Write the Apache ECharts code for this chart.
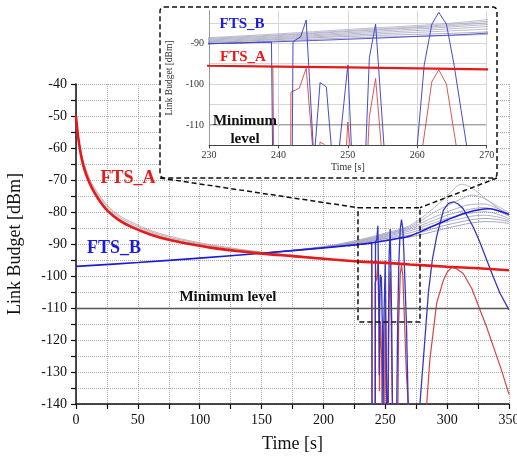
<!DOCTYPE html>
<html><head><meta charset="utf-8">
<script src="https://cdn.jsdelivr.net/npm/echarts@6/dist/echarts.min.js"></script>
<style>html,body{margin:0;padding:0;background:#fff}#c{width:517px;height:456px}</style>
</head><body><div id="c"></div>
<script>
// ---------- data ----------
const redT = [0,1,2,4,6,8,11,15,20,26,35,46,60,75,92,110,130,150,175,200,230,250,270,300,325,350];
const redV = [-50,-54,-57.3,-62.2,-65.6,-68.1,-71,-74,-77,-79.8,-82.6,-84.9,-87,-88.7,-90,-91.2,-92.2,-93,-93.8,-94.6,-95.5,-95.9,-96.4,-97.1,-97.6,-98.2];

const grayAT = [0,2,5,11,15,20,26,35,46,60,75,92,110,130,150,175,200];
const grayA1 = [-50,-57.1,-63.5,-70.6,-73.6,-76.5,-79.3,-82.1,-84.4,-86.5,-88.3,-89.6,-90.9,-92,-92.8,-93.7,-94.5];
const grayA2 = [-50,-56.9,-63.1,-70.1,-73,-75.9,-78.7,-81.6,-83.9,-86.1,-87.9,-89.3,-90.6,-91.7,-92.6,-93.6,-94.4];
const grayA3 = [-50,-56.7,-62.7,-69.6,-72.5,-75.3,-78.2,-81.1,-83.4,-85.7,-87.5,-89,-90.3,-91.5,-92.5,-93.5,-94.4];

const blueT = [0,50,100,150,200,230,240,250,260,270,285,300,315,333,350];
const blueV = [-97,-95.8,-94.4,-92.9,-91.2,-90.1,-89.6,-89,-88.3,-87.5,-85,-82.5,-80.3,-79,-80.8];

const fanT = [150,200,230,250,270,290,300,312,320,330,340,350];
const fan1 = [-92.9,-90.8,-88.6,-86.6,-84.2,-78.5,-75,-71.3,-72.5,-75.5,-78.5,-81];
const fan2 = [-92.9,-90.9,-88.8,-86.9,-84.6,-80,-78,-75.8,-74.7,-75.8,-78,-80.2];
const fan3 = [-92.9,-91,-89,-87.1,-85,-81.5,-80,-78.3,-77.6,-77.5,-78.8,-80.6];
const fan4 = [-92.9,-91,-89.2,-87.4,-85.4,-82.5,-81,-79.7,-79,-78.6,-79.6,-81.3];
const fan5 = [-92.9,-91.1,-89.4,-87.7,-85.9,-83.3,-82,-80.9,-80.3,-79.9,-80.6,-82];
const fan6 = [-92.9,-91.1,-89.6,-88,-86.5,-84.2,-83,-82,-81.3,-81,-81.5,-82.5];
const fan7 = [-92.9,-91.2,-89.8,-88.3,-87.2,-85.1,-84,-83,-82.4,-82,-82.3,-83];
const fan8 = [-92.9,-91.2,-90,-88.7,-87.8,-86,-85,-84,-83.4,-83,-83.1,-83.6];

const blueSpikeT = [220,230,239,239.15,239.3,241.9,242,242.1,243.2,244,245,245.15,245.3,246,246.9,247.6,248.2,248.8,250,250.5,251.2,252,252.6,253.1,254,255.2,256,259,260,261,262.1,263.1,264.2,265.3,267.1,268.5,270,277,278,281,284.8,288,291.5,297,301,305,309,313,321,326,332,337,342.7,350];
const blueSpikeV = [-90.6,-90.1,-89.7,-115,-150,-150,-115,-89.6,-88.4,-84.3,-115,-131,-115,-99.6,-100.7,-115,-145,-115,-95.3,-115,-140,-150,-115,-93.5,-85.3,-115,-150,-150,-115,-95.3,-85.3,-82.4,-85.3,-95.3,-115,-140,-150,-150,-140,-125,-105.4,-95,-87.7,-79.4,-77.3,-76.8,-77.5,-79,-84.6,-89,-95,-100,-105.4,-110.6];

const redSpikeT = [220,230,239.2,239.3,239.4,241.7,241.8,243,244,244.9,245.3,245.8,246,246.6,247,247.5,249.5,249.8,250,250.3,250.8,252.3,252.9,253.1,254,254.8,255.5,256.5,260,260.8,262.1,263.1,264.2,265.6,267,268.5,270,282,283.5,286,291.5,297,300,303.7,307,313,320,326.6,332,337.3,344,350];
const redSpikeV = [-95.2,-95.5,-95.7,-115,-150,-150,-102,-101,-96.1,-115,-136,-118,-114.2,-114.8,-125,-150,-150,-115,-109.3,-115,-136,-150,-115,-108,-98.6,-115,-135,-150,-150,-115,-99.4,-96.5,-100,-115,-130,-140,-150,-150,-140,-126.3,-108.5,-101.3,-98.8,-97.3,-97.6,-99.2,-104,-110.6,-116,-122,-129.5,-137];

const minLevel = -110;
const mainXTicks = {min: 0, max: 350, interval: 50};
const mainYTicks = {min: -140, max: -40, interval: 10};
const insetXTicks = {min: 230, max: 270, interval: 10};
const insetYTicks = {min: -115, max: -82, interval: 5};

// ---------- build ----------
const zip = (t, v) => t.map((x, i) => [x, v[i]]);
const SERIF = '"Liberation Serif","Times New Roman",serif';

const lineDefs = [
  {t: grayAT, v: grayA3, color: '#b39a9a', w: 0.8, wi: 0.8, smooth: true},
  {t: grayAT, v: grayA2, color: '#b39a9a', w: 0.8, wi: 0.8, smooth: true},
  {t: grayAT, v: grayA1, color: '#b39a9a', w: 0.8, wi: 0.8, smooth: true},
  {t: fanT, v: fan1, color: '#a3a3bd', w: 0.8, wi: 0.7, smooth: true},
  {t: fanT, v: fan2, color: '#a3a3bd', w: 0.8, wi: 0.7, smooth: true},
  {t: fanT, v: fan3, color: '#9c9cb8', w: 0.8, wi: 0.7, smooth: true},
  {t: fanT, v: fan4, color: '#9c9cb8', w: 0.8, wi: 0.7, smooth: true},
  {t: fanT, v: fan5, color: '#9c9cb8', w: 0.8, wi: 0.7, smooth: true},
  {t: fanT, v: fan6, color: '#9c9cb8', w: 0.8, wi: 0.7, smooth: true},
  {t: fanT, v: fan7, color: '#8e8eb4', w: 0.8, wi: 0.7, smooth: true},
  {t: fanT, v: fan8, color: '#8e8eb4', w: 0.8, wi: 0.7, smooth: true},
  {t: redSpikeT, v: redSpikeV, color: '#d24545', w: 1.2, wi: 0.9, smooth: false},
  {t: blueSpikeT, v: blueSpikeV, color: '#3636c4', w: 1.3, wi: 0.9, smooth: false},
  {t: blueT, v: blueV, color: '#1c1cd8', w: 1.6, wi: 0.9, ci: '#4444c0', smooth: true},
  {t: redT, v: redV, color: '#e8191b', w: 2.6, wi: 2.2, smooth: true}
];

const series = [];
lineDefs.forEach((d, i) => {
  const data = zip(d.t, d.v);
  series.push({type: 'line', xAxisIndex: 0, yAxisIndex: 0, data, showSymbol: false, symbol: 'none',
    smooth: d.smooth ? 0.35 : false, clip: true, silent: true, z: 2,
    lineStyle: {color: d.color, width: d.w}});
  series.push({type: 'line', xAxisIndex: 1, yAxisIndex: 1, data, showSymbol: false, symbol: 'none',
    smooth: d.smooth ? 0.35 : false, clip: true, silent: true, z: 10,
    lineStyle: {color: d.ci || d.color, width: d.wi}});
});
// minimum level lines
series.push({type: 'line', xAxisIndex: 0, yAxisIndex: 0, data: [], silent: true, z: 1,
  markLine: {symbol: 'none', silent: true, label: {show: false},
    lineStyle: {color: '#555', width: 1.3, type: 'solid'}, data: [{yAxis: minLevel}]}});
series.push({type: 'line', xAxisIndex: 1, yAxisIndex: 1, data: [], silent: true, z: 9,
  markLine: {symbol: 'none', silent: true, label: {show: false},
    lineStyle: {color: '#888', width: 1.5, type: 'solid'}, data: [{yAxis: minLevel}]}});

const dash = [5, 3];
const txt = (x, y, s, color, size, weight) => ({type: 'text', x, y, z: 20,
  style: {text: s, fill: color, font: `${weight} ${size}px ${SERIF}`,
    textAlign: 'center', textVerticalAlign: 'middle', align: 'center', verticalAlign: 'middle'}});

const option = {
  animation: false,
  backgroundColor: '#fff',
  grid: [
    {left: 76, top: 84, right: 8, bottom: 52, containLabel: false, outerBoundsMode: 'none'},
    {left: 209, top: 10.7, right: 30.3, bottom: 310.7, containLabel: false, outerBoundsMode: 'none'}
  ],
  xAxis: [
    {type: 'value', gridIndex: 0, ...mainXTicks, name: 'Time [s]', nameLocation: 'middle', nameGap: 31,
      nameTextStyle: {fontFamily: SERIF, fontSize: 18, color: '#111'},
      axisLine: {show: true, onZero: false, lineStyle: {color: '#111', width: 1.5}},
      axisTick: {show: true, inside: false, length: 5, lineStyle: {color: '#111', width: 1.2}},
      minorTick: {show: true, splitNumber: 2, length: 5, lineStyle: {color: '#111', width: 1.2}},
      axisLabel: {fontFamily: SERIF, fontSize: 14, color: '#111', margin: 9},
      splitLine: {show: true, lineStyle: {color: '#aaa', type: 'dotted', width: 1}},
      minorSplitLine: {show: true, lineStyle: {color: '#aaa', type: 'dotted', width: 1}}},
    {type: 'value', gridIndex: 1, ...insetXTicks, name: 'Time [s]', nameLocation: 'middle', nameGap: 17, z: 8,
      nameTextStyle: {fontFamily: SERIF, fontSize: 10, color: '#333'},
      axisLine: {show: true, onZero: false, lineStyle: {color: '#444', width: 1}},
      axisTick: {show: true, length: 3, lineStyle: {color: '#444'}},
      axisLabel: {fontFamily: SERIF, fontSize: 10, color: '#333', margin: 5},
      splitLine: {show: true, lineStyle: {color: '#d6d6d6', width: 1}}}
  ],
  yAxis: [
    {type: 'value', gridIndex: 0, ...mainYTicks, name: 'Link Budget [dBm]', nameLocation: 'middle', nameGap: 52,
      nameTextStyle: {fontFamily: SERIF, fontSize: 18, color: '#111'},
      axisLine: {show: true, onZero: false, lineStyle: {color: '#111', width: 1.5}},
      axisTick: {show: true, inside: false, length: 5, lineStyle: {color: '#111', width: 1.2}},
      minorTick: {show: true, splitNumber: 2, length: 5, lineStyle: {color: '#111', width: 1.2}},
      axisLabel: {fontFamily: SERIF, fontSize: 14, color: '#111', margin: 9},
      splitLine: {show: true, lineStyle: {color: '#aaa', type: 'dotted', width: 1}},
      minorSplitLine: {show: true, lineStyle: {color: '#aaa', type: 'dotted', width: 1}}},
    {type: 'value', gridIndex: 1, ...insetYTicks, name: 'Link Budget [dBm]', nameLocation: 'middle', nameGap: 30, z: 8,
      nameTextStyle: {fontFamily: SERIF, fontSize: 9.5, color: '#333'},
      axisLine: {show: true, onZero: false, lineStyle: {color: '#999', width: 1}},
      axisTick: {show: false},
      axisLabel: {fontFamily: SERIF, fontSize: 10, color: '#333', margin: 5,
        formatter: v => (v % 10 === 0 ? String(v) : '')},
      splitLine: {show: true, lineStyle: {color: ['#d6d6d6','#d6d6d6','#d6d6d6','#d6d6d6','#d6d6d6','#d6d6d6','#d6d6d6','rgba(0,0,0,0)'], width: 1}}}
  ],
  series,
  graphic: {elements: [
    {type: 'rect', z: 5, shape: {x: 160, y: 7, width: 337, height: 171, r: 4},
      style: {fill: '#fff', stroke: '#111', lineWidth: 1.5, lineDash: dash}},
    {type: 'polyline', z: 5, shape: {points: [[160, 178], [358, 207.7]]},
      style: {fill: null, stroke: '#111', lineWidth: 1.5, lineDash: dash}},
    {type: 'polyline', z: 5, shape: {points: [[497, 178], [420, 207.7]]},
      style: {fill: null, stroke: '#111', lineWidth: 1.5, lineDash: dash}},
    {type: 'rect', z: 5, shape: {x: 358, y: 207.7, width: 62, height: 114.3},
      style: {fill: null, stroke: '#111', lineWidth: 1.5, lineDash: dash}},
    txt(128, 178, 'FTS_A', '#e8191b', 18, 'bold'),
    txt(114, 248, 'FTS_B', '#1c1cd8', 18, 'bold'),
    txt(228, 297, 'Minimum level', '#111', 15, 'bold'),
    txt(242, 24, 'FTS_B', '#1c1cd8', 15, 'bold'),
    txt(243, 57, 'FTS_A', '#e8191b', 15, 'bold'),
    txt(245, 121, 'Minimum', '#111', 15, 'bold'),
    txt(245, 139, 'level', '#111', 15, 'bold')
  ]}
};
const chart = echarts.init(document.getElementById('c'), null, {renderer: 'canvas'});
chart.setOption(option);
</script></body></html>
